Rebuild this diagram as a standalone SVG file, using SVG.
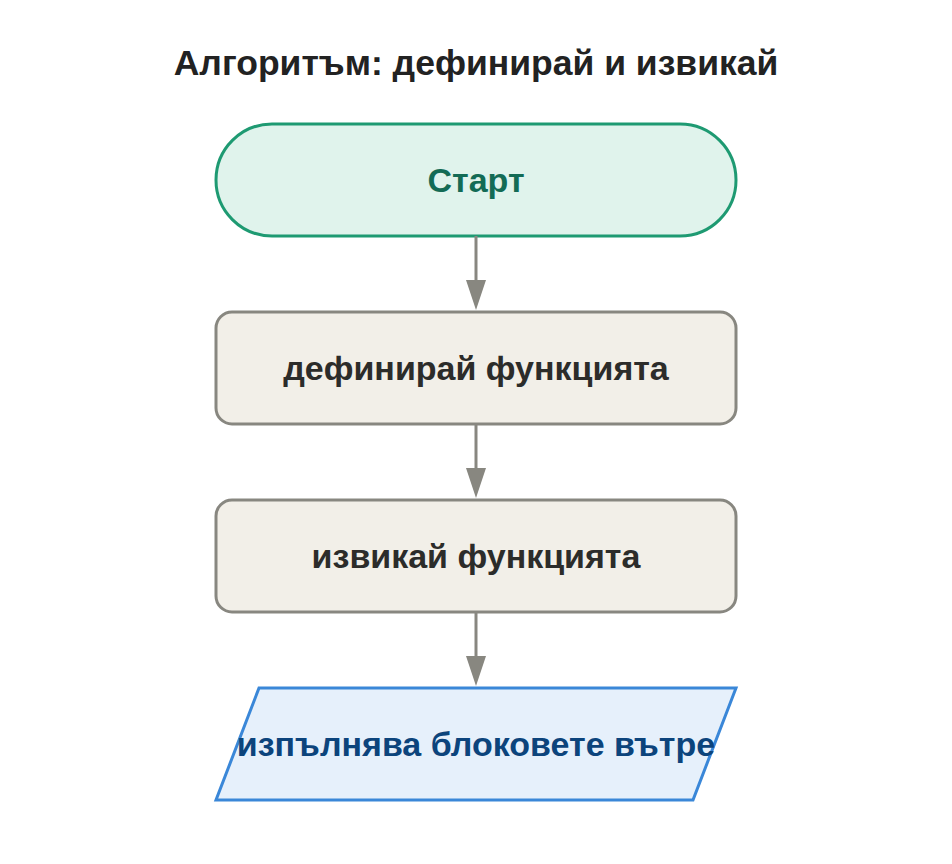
<svg xmlns="http://www.w3.org/2000/svg" width="952" height="864" viewBox="0 0 952 864">
<style>
text{font-family:"Liberation Sans",Arial,sans-serif;font-weight:bold;text-anchor:middle;dominant-baseline:central}
.proc rect{fill:#f2efe8;stroke:#888780;stroke-width:3}
.proc text{fill:#2c2c2a;font-size:34px}
.conn line{stroke:#888780;stroke-width:3}
</style>
<rect width="952" height="864" fill="#fff"/>
<text x="476" y="63" font-size="35.5" fill="#222">Алгоритъм: дефинирай и извикай</text>
<g id="start"><rect x="216" y="124" width="520" height="112" rx="56" fill="#e0f3ec" stroke="#1e9a72" stroke-width="3"/><text x="476" y="180" font-size="34" fill="#136b55">Старт</text></g>
<g id="define" class="proc"><rect x="216" y="312" width="520" height="112" rx="16"/><text x="476" y="368">дефинирай функцията</text></g>
<g id="call" class="proc"><rect x="216" y="500" width="520" height="112" rx="16"/><text x="476" y="556">извикай функцията</text></g>
<g id="exec"><polygon points="259,688 736,688 693,800 216,800" fill="#e6f0fb" stroke="#3a87d8" stroke-width="3"/><text x="476" y="744" font-size="34" fill="#0c447c">изпълнява блоковете вътре</text></g>
<g class="conn">
<path d="M466,280 L486,280 L476,310 Z" fill="#888780"/><line x1="476" y1="236" x2="476" y2="282"/>
<path d="M466,468 L486,468 L476,498 Z" fill="#888780"/><line x1="476" y1="424" x2="476" y2="470"/>
<path d="M466,656 L486,656 L476,686 Z" fill="#888780"/><line x1="476" y1="612" x2="476" y2="658"/>
</g>
</svg>
